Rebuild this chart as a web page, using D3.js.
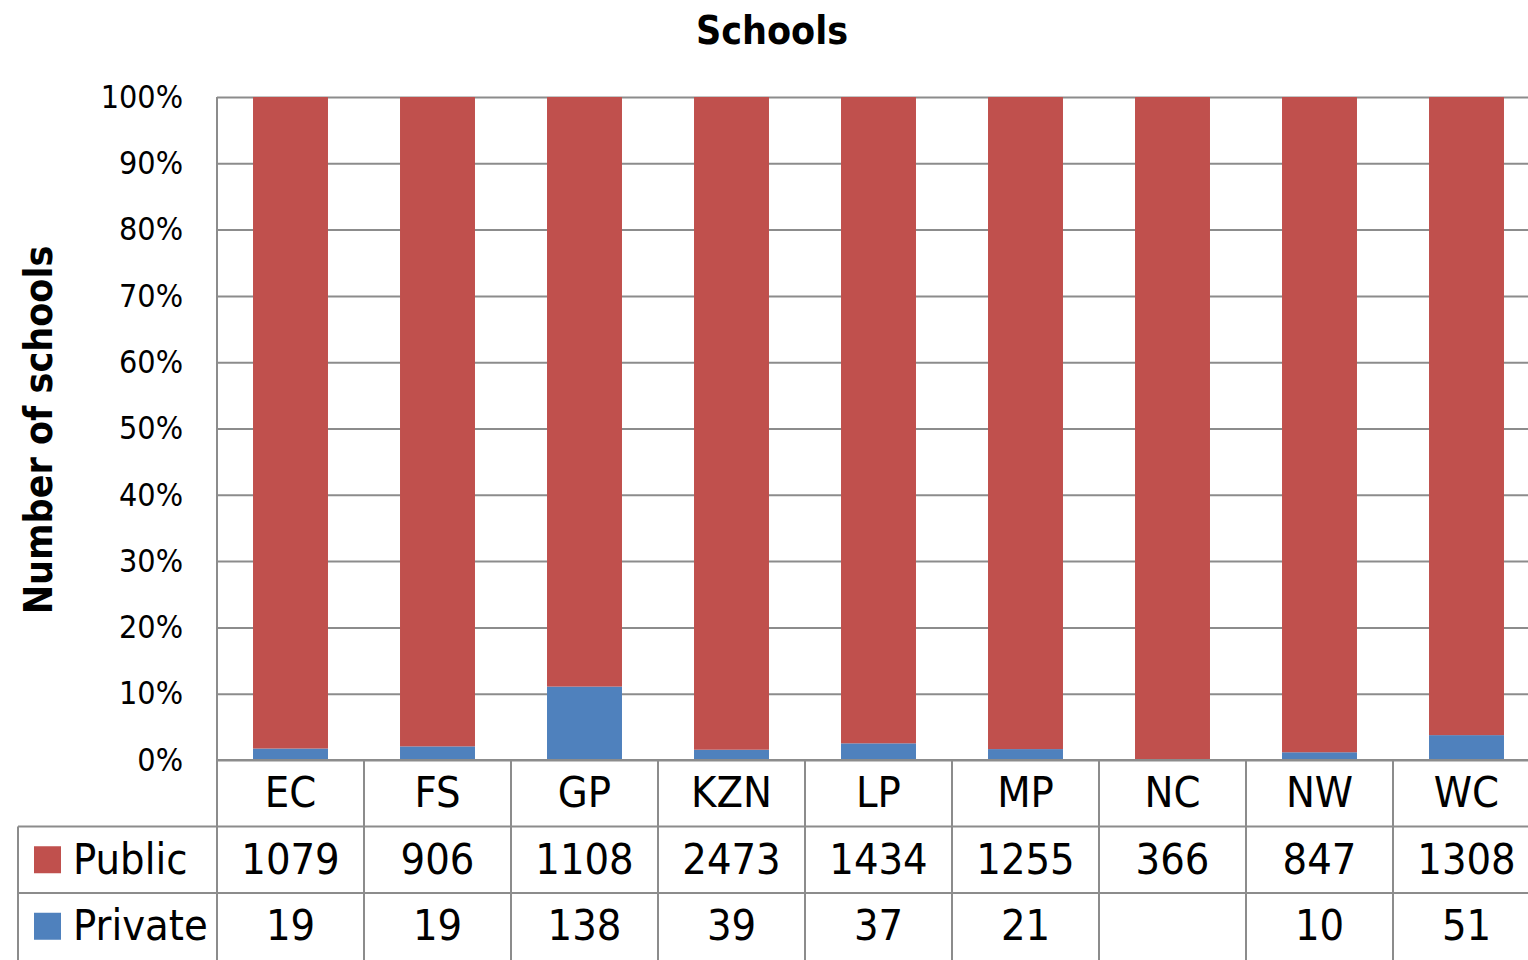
<!DOCTYPE html>
<html>
<head>
<meta charset="utf-8">
<script src="https://cdn.jsdelivr.net/npm/d3@7"></script>
<style>
  html, body { margin: 0; padding: 0; background: #ffffff; }
  svg { display: block; }
  text { font-family: "Liberation Sans Narrow", "DejaVu Sans Condensed", "Arial Narrow", sans-serif; fill: #000; }
</style>
</head>
<body>
<svg id="chart" width="1528" height="960"></svg>
<script>
// Provinces and school counts by sector
const provinces = ["EC", "FS", "GP", "KZN", "LP", "MP", "NC", "NW", "WC"];
const publicSchools = [1079, 906, 1108, 2473, 1434, 1255, 366, 847, 1308];
const privateSchools = [19, 19, 138, 39, 37, 21, null, 10, 51];
const seriesNames = ["Private", "Public"];
const seriesColors = { Public: "#C0504D", Private: "#4F81BD" };
const yTicks = [0, 0.1, 0.2, 0.3, 0.4, 0.5, 0.6, 0.7, 0.8, 0.9, 1];

const rows = provinces.map((p, i) => ({
  province: p,
  Public: publicSchools[i],
  Private: privateSchools[i] == null ? 0 : privateSchools[i]
}));

const svg = d3.select("#chart");
const plotLeft = 217, plotTop = 97, plotBottom = 760, plotRight = 1540;
const rowH = 66.5;
const gridColor = "#8c8c8c";

const x = d3.scaleBand().domain(provinces).range([plotLeft, plotRight])
  .paddingInner(0.49).paddingOuter(0.245);
const y = d3.scaleLinear().domain([0, 1]).range([plotBottom, plotTop]);

// Horizontal gridlines and percentage ticks
const yAxis = d3.axisLeft(y).tickValues(yTicks)
  .tickFormat(d3.format(".0%")).tickSize(-(plotRight - plotLeft)).tickPadding(34);
const gy = svg.append("g").attr("transform", `translate(${plotLeft},0)`).call(yAxis);
gy.select(".domain").remove();
gy.selectAll(".tick line").attr("stroke", gridColor).attr("stroke-width", 2);
gy.selectAll(".tick text").attr("font-size", 32).attr("fill", "#000")
  .attr("font-family", "Liberation Sans Narrow, DejaVu Sans Condensed, sans-serif");

// Left edge of the plot
svg.append("line").attr("x1", plotLeft).attr("x2", plotLeft).attr("y1", plotTop).attr("y2", plotBottom)
  .attr("stroke", gridColor).attr("stroke-width", 2);

// 100% stacked columns
const stack = d3.stack().keys(seriesNames).offset(d3.stackOffsetExpand);
const layers = stack(rows);
svg.append("g").selectAll("g").data(layers).join("g")
  .attr("fill", d => seriesColors[d.key])
  .selectAll("rect").data(d => d).join("rect")
  .attr("x", d => x(d.data.province))
  .attr("width", x.bandwidth())
  .attr("y", d => y(d[1]))
  .attr("height", d => Math.max(0, y(d[0]) - y(d[1])));

// Data table beneath the plot
const tableLeft = 18, tableRight = 1528;
const rowTop = [plotBottom, plotBottom + rowH, plotBottom + 2 * rowH];
const tableBottom = 962;
const tbl = svg.append("g");
const step = x.step();
const boundaries = provinces.map((p, i) => plotLeft + i * step);

tbl.selectAll("line.v").data(boundaries).join("line")
  .attr("x1", d => d).attr("x2", d => d).attr("y1", plotBottom).attr("y2", tableBottom)
  .attr("stroke", gridColor).attr("stroke-width", 2);
tbl.append("line").attr("x1", tableLeft).attr("x2", tableLeft)
  .attr("y1", rowTop[1]).attr("y2", tableBottom).attr("stroke", gridColor).attr("stroke-width", 2);
tbl.append("line").attr("x1", plotLeft).attr("x2", tableRight).attr("y1", plotBottom).attr("y2", plotBottom)
  .attr("stroke", gridColor).attr("stroke-width", 2);
[rowTop[1], rowTop[2]].forEach(yy => {
  tbl.append("line").attr("x1", tableLeft).attr("x2", tableRight).attr("y1", yy).attr("y2", yy)
    .attr("stroke", gridColor).attr("stroke-width", 2);
});

const center = p => x(p) + x.bandwidth() / 2;
const fs = 43;
tbl.selectAll("text.cat").data(provinces).join("text")
  .attr("x", center).attr("y", rowTop[0] + rowH / 2 - 1).attr("dy", "0.35em")
  .attr("text-anchor", "middle").attr("font-size", fs).text(d => d);

const tableRows = [
  { name: "Public", values: publicSchools },
  { name: "Private", values: privateSchools }
];
tableRows.forEach((r, ri) => {
  const cy = rowTop[ri + 1] + rowH / 2;
  tbl.append("rect").attr("x", 34).attr("y", cy - 13.5).attr("width", 27).attr("height", 27)
    .attr("fill", seriesColors[r.name]);
  tbl.append("text").attr("x", 73).attr("y", cy - 1).attr("dy", "0.35em")
    .attr("font-size", fs).text(r.name);
  tbl.selectAll(null).data(provinces).join("text")
    .attr("x", center).attr("y", cy - 1).attr("dy", "0.35em")
    .attr("text-anchor", "middle").attr("font-size", fs)
    .text((p, i) => r.values[i] == null ? "" : r.values[i]);
});

// Titles
svg.append("text").attr("x", 772).attr("y", 44).attr("text-anchor", "middle")
  .attr("font-size", 39).attr("font-weight", "bold").text("Schools");
svg.append("text").attr("transform", "translate(52,430) rotate(-90)")
  .attr("text-anchor", "middle").attr("font-size", 39).attr("font-weight", "bold")
  .text("Number of schools");
</script>
</body>
</html>
